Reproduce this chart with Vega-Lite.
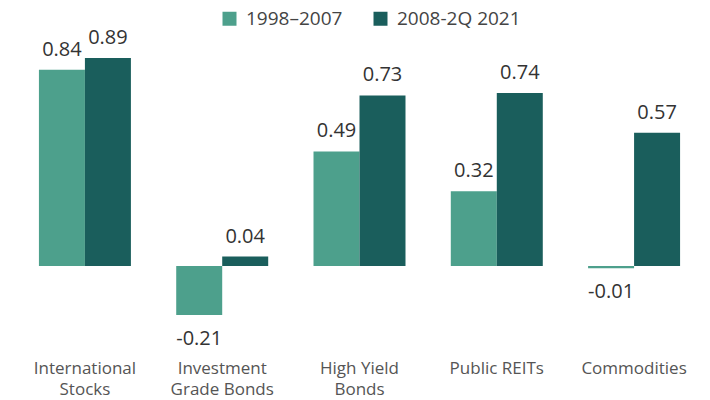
{
  "$schema": "https://vega.github.io/schema/vega-lite/v6.json",
  "autosize": "none",
  "width": 687,
  "height": 292,
  "padding": {"left": 16, "top": 44, "right": 7, "bottom": 64},
  "background": "white",
  "config": {"view": {"stroke": null}, "font": "Open Sans"},
  "data": {"values": [
    {"asset": "International Stocks", "period": "1998–2007", "value": 0.84},
    {"asset": "International Stocks", "period": "2008-2Q 2021", "value": 0.89},
    {"asset": "Investment Grade Bonds", "period": "1998–2007", "value": -0.21},
    {"asset": "Investment Grade Bonds", "period": "2008-2Q 2021", "value": 0.04},
    {"asset": "High Yield Bonds", "period": "1998–2007", "value": 0.49},
    {"asset": "High Yield Bonds", "period": "2008-2Q 2021", "value": 0.73},
    {"asset": "Public REITs", "period": "1998–2007", "value": 0.32},
    {"asset": "Public REITs", "period": "2008-2Q 2021", "value": 0.74},
    {"asset": "Commodities", "period": "1998–2007", "value": -0.01},
    {"asset": "Commodities", "period": "2008-2Q 2021", "value": 0.57}
  ]},
  "encoding": {
    "x": {"field": "asset", "type": "nominal", "sort": null,
      "scale": {"paddingInner": 0.33, "paddingOuter": 0.167},
      "axis": {"title": null, "domain": false, "ticks": false, "labelAngle": 0,
        "labelFontSize": 17, "labelColor": "#555555", "labelPadding": 24, "labelLineHeight": 21,
        "labelFont": "Open Sans",
        "labelExpr": "datum.value == 'International Stocks' ? ['International', 'Stocks'] : datum.value == 'Investment Grade Bonds' ? ['Investment', 'Grade Bonds'] : datum.value == 'High Yield Bonds' ? ['High Yield', 'Bonds'] : datum.value"}},
    "xOffset": {"field": "period", "type": "nominal", "sort": null, "scale": {"paddingInner": 0, "paddingOuter": 0}}
  },
  "layer": [
    {
      "mark": {"type": "bar"},
      "encoding": {
        "y": {"field": "value", "type": "quantitative", "scale": {"domain": [-0.3, 0.95], "nice": false, "zero": true}, "axis": null},
        "color": {"field": "period", "type": "nominal", "sort": null,
          "scale": {"domain": ["1998–2007", "2008-2Q 2021"], "range": ["#4DA08C", "#1A5E5C"]},
          "legend": {"title": null, "orient": "none", "legendX": 204, "legendY": -35, "direction": "horizontal",
            "symbolType": "square", "symbolSize": 196, "symbolStrokeWidth": 0, "symbolOpacity": 1,
            "labelFontSize": 19, "labelColor": "#444444", "labelFont": "Open Sans", "columnPadding": 28, "labelOffset": 7}}
      }
    },
    {
      "transform": [{"filter": "datum.value >= 0"}],
      "mark": {"type": "text", "baseline": "alphabetic", "dy": -14, "fontSize": 20, "color": "#333333",
        "text": {"expr": "replace(format(datum.value, '.2f'), '\u2212', '-')"}},
      "encoding": {
        "y": {"field": "value", "type": "quantitative"}
      }
    },
    {
      "transform": [{"filter": "datum.value < 0"}],
      "mark": {"type": "text", "baseline": "top", "dy": 14, "fontSize": 20, "color": "#333333",
        "text": {"expr": "replace(format(datum.value, '.2f'), '\u2212', '-')"}},
      "encoding": {
        "y": {"field": "value", "type": "quantitative"}
      }
    },
    {
      "mark": {"type": "rule", "color": "#111111", "strokeWidth": 2},
      "encoding": {"y": {"datum": 0, "type": "quantitative"}, "xOffset": null}
    }
  ]
}
